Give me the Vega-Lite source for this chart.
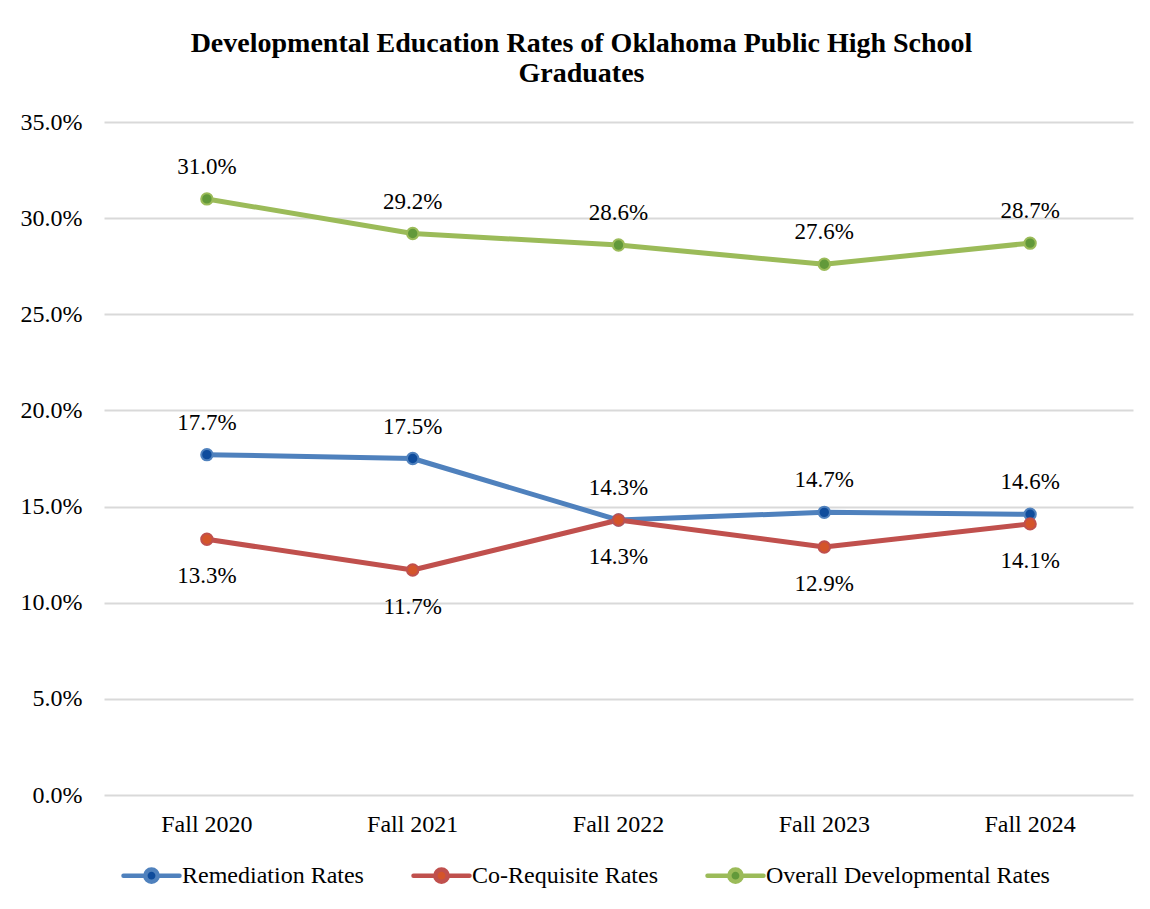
{
  "$schema": "https://vega.github.io/schema/vega-lite/v6.json",
  "width": 1029,
  "height": 673,
  "autosize": {"type": "none"},
  "padding": {"left": 104, "top": 122, "right": 17, "bottom": 114},
  "background": "white",
  "title": {
    "text": ["Developmental Education Rates of Oklahoma Public High School", "Graduates"],
    "font": "Liberation Serif",
    "fontSize": 28,
    "fontWeight": "bold",
    "color": "black",
    "anchor": "middle",
    "dx": -37,
    "lineHeight": 30,
    "offset": 22
  },
  "data": {
    "values": [
      {"term": "Fall 2020", "series": "Remediation Rates", "rate": 0.177},
      {"term": "Fall 2021", "series": "Remediation Rates", "rate": 0.175},
      {"term": "Fall 2022", "series": "Remediation Rates", "rate": 0.143},
      {"term": "Fall 2023", "series": "Remediation Rates", "rate": 0.147},
      {"term": "Fall 2024", "series": "Remediation Rates", "rate": 0.146},
      {"term": "Fall 2020", "series": "Co-Requisite Rates", "rate": 0.133},
      {"term": "Fall 2021", "series": "Co-Requisite Rates", "rate": 0.117},
      {"term": "Fall 2022", "series": "Co-Requisite Rates", "rate": 0.143},
      {"term": "Fall 2023", "series": "Co-Requisite Rates", "rate": 0.129},
      {"term": "Fall 2024", "series": "Co-Requisite Rates", "rate": 0.141},
      {"term": "Fall 2020", "series": "Overall Developmental Rates", "rate": 0.310},
      {"term": "Fall 2021", "series": "Overall Developmental Rates", "rate": 0.292},
      {"term": "Fall 2022", "series": "Overall Developmental Rates", "rate": 0.286},
      {"term": "Fall 2023", "series": "Overall Developmental Rates", "rate": 0.276},
      {"term": "Fall 2024", "series": "Overall Developmental Rates", "rate": 0.287}
    ]
  },
  "encoding": {
    "x": {
      "field": "term", "type": "ordinal",
      "scale": {"type": "band", "paddingInner": 0, "paddingOuter": 0},
      "axis": {"title": null, "labelAngle": 0, "domain": false, "ticks": false, "labelPadding": 17,
               "labelFont": "Liberation Serif", "labelFontSize": 24, "labelColor": "black"}
    },
    "y": {
      "field": "rate", "type": "quantitative",
      "scale": {"domain": [0, 0.35], "nice": false, "zero": true},
      "axis": {"title": null, "format": ".1%", "values": [0, 0.05, 0.1, 0.15, 0.2, 0.25, 0.3, 0.35],
               "domain": false, "ticks": false, "labelPadding": 22, "grid": true, "gridColor": "#d9d9d9", "gridWidth": 2,
               "labelFont": "Liberation Serif", "labelFontSize": 24, "labelColor": "black"}
    }
  },
  "layer": [
    {
      "mark": {"type": "line", "strokeWidth": 5, "strokeCap": "round", "strokeJoin": "round"},
      "encoding": {
        "color": {
          "field": "series", "type": "nominal",
          "scale": {"domain": ["Remediation Rates", "Co-Requisite Rates", "Overall Developmental Rates"],
                    "range": ["#4f81bd", "#c0504d", "#9bbb59"]},
          "legend": {
            "title": null, "orient": "none", "direction": "horizontal",
            "legendX": 17, "legendY": 723,
            "symbolType": "M-1,0H-0.22M0.22,0H1M-0.22,0A0.22,0.22,0,1,1,0.22,0A0.22,0.22,0,1,1,-0.22,0Z",
            "symbolSize": 3136, "symbolStrokeWidth": 4.5,
            "labelFont": "Liberation Serif", "labelFontSize": 24, "labelColor": "black", "labelLimit": 500,
            "labelOffset": 0, "columnPadding": 40,
            "encode": {"symbols": {"update": {"fill": {"scale": "fill", "field": "value"}, "strokeCap": {"value": "round"}}}}
          }
        },
        "order": {"field": "term"}
      }
    },
    {
      "mark": {"type": "point", "shape": "circle", "filled": true, "size": 130, "strokeWidth": 2, "opacity": 1},
      "encoding": {
        "fill": {
          "field": "series", "type": "nominal",
          "scale": {"domain": ["Remediation Rates", "Co-Requisite Rates", "Overall Developmental Rates"],
                    "range": ["#0f4c9c", "#d4552a", "#62993a"]},
          "legend": null
        },
        "stroke": {
          "field": "series", "type": "nominal",
          "scale": {"domain": ["Remediation Rates", "Co-Requisite Rates", "Overall Developmental Rates"],
                    "range": ["#4f81bd", "#c0504d", "#9bbb59"]},
          "legend": null
        }
      }
    },
    {
      "transform": [{"filter": "datum.series !== 'Co-Requisite Rates'"}],
      "mark": {"type": "text", "dy": -32, "font": "Liberation Serif", "fontSize": 23, "color": "black"},
      "encoding": {"text": {"field": "rate", "type": "quantitative", "format": ".1%"}}
    },
    {
      "transform": [{"filter": "datum.series === 'Co-Requisite Rates'"}],
      "mark": {"type": "text", "dy": 37, "font": "Liberation Serif", "fontSize": 23, "color": "black"},
      "encoding": {"text": {"field": "rate", "type": "quantitative", "format": ".1%"}}
    }
  ],
  "config": {"view": {"stroke": null}}
}
